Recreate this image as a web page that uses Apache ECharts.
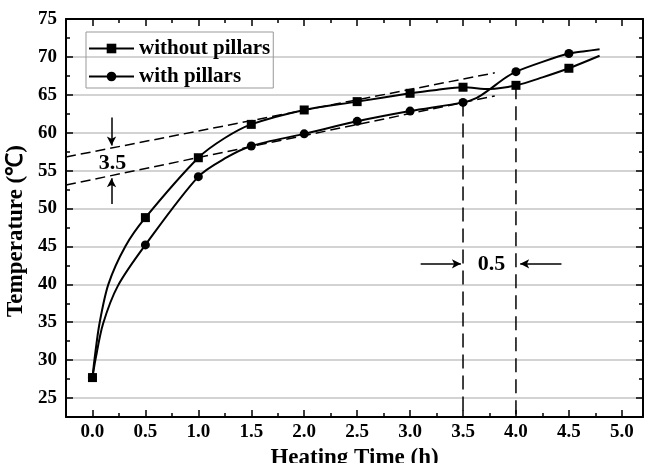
<!DOCTYPE html>
<html><head><meta charset="utf-8">
<script src="https://cdn.jsdelivr.net/npm/echarts@6/dist/echarts.min.js"></script>
<style>html,body{margin:0;padding:0;background:#fff}#c{width:645px;height:463px}</style>
</head><body><div id="c"></div>
<script>
// measured (marked) points
const timeMarked = [0, 0.5, 1.0, 1.5, 2.0, 2.5, 3.0, 3.5, 4.0, 4.5];
const withoutPillars = [27.7, 48.8, 56.7, 61.1, 63.0, 64.1, 65.2, 66.0, 66.25, 68.5];
const withPillars = [27.7, 45.2, 54.2, 58.25, 59.85, 61.5, 62.85, 64.0, 68.05, 70.45];
// intermediate points of the drawn curves
const withoutTraceT = [0.02, 0.066, 0.15, 0.31, 1.25, 3.25, 3.75, 4.25, 4.79];
const withoutTraceY = [30.2, 34.8, 40.0, 45.0, 59.3, 65.65, 65.75, 67.3, 70.15];
const withTraceT = [0.03, 0.10, 0.24, 1.25, 3.63, 3.75, 3.88, 4.25, 4.65, 4.79];
const withTraceY = [30.2, 34.8, 39.8, 56.6, 64.6, 65.7, 67.05, 69.35, 70.75, 71.0];
// dashed guide lines
const dashUpper = [[-0.25, 56.8], [3.8, 67.9]];
const dashLower = [[-0.25, 53.1], [3.8, 64.85]];
const dashV35 = [[3.5, 64.0], [3.5, 22.5]];
const dashV40 = [[4.0, 66.25], [4.0, 22.5]];
// annotation arrows [from, to]
const arrows = [
  [[0.18, 62.0], [0.18, 58.3]],
  [[0.18, 50.6], [0.18, 54.0]],
  [[3.10, 42.7], [3.48, 42.7]],
  [[4.43, 42.7], [4.04, 42.7]]
];
const annotTexts = [[0.19, 55.9, '3.5'], [3.77, 42.7, '0.5']];
const seriesNames = ['without pillars', 'with pillars'];

const FONT = "'Liberation Serif','Times New Roman',serif";

function buildCurve(mT, mY, tT, tY, sym) {
  const pts = mT.map((t, i) => ({t, y: mY[i], m: true}))
    .concat(tT.map((t, i) => ({t, y: tY[i], m: false})));
  pts.sort((a, b) => a.t - b.t);
  return pts.map(p => ({value: [p.t, p.y], symbol: p.m ? sym : 'none'}));
}

const chart = echarts.init(document.getElementById('c'));
const axisCommon = {
  axisLine: {show: true, onZero: false, lineStyle: {color: '#000', width: 2}},
  axisTick: {show: true, inside: true, length: 7, lineStyle: {color: '#000', width: 1.5}},
  minorTick: {show: true, splitNumber: 2, length: 4, lineStyle: {color: '#000', width: 1.5}}
};
const xBase = {type: 'value', min: -0.25, max: 5.2, splitNumber: 10, minInterval: 0.5, maxInterval: 0.5};
const yBase = {type: 'value', min: 22.5, max: 75, splitNumber: 10, minInterval: 5, maxInterval: 5};

const dashSeries = (data, dash) => ({
  type: 'line', data, symbol: 'none', silent: true, z: 1,
  lineStyle: {color: '#000', width: 1.5, type: dash}
});

chart.setOption({
  animation: false,
  grid: {left: 66, right: 2, top: 19, bottom: 46, containLabel: false, outerBoundsMode: 'none'},
  legend: {
    data: seriesNames, orient: 'vertical', left: 86, top: 32,
    itemWidth: 45, itemHeight: 12, itemGap: 7, padding: [6, 3, 1, 2],
    borderColor: '#999', borderWidth: 1, selectedMode: false,
    textStyle: {fontFamily: FONT, fontWeight: 'bold', fontSize: 21, color: '#000'}
  },
  xAxis: [
    Object.assign({}, xBase, axisCommon, {
      position: 'bottom',
      name: 'Heating Time (h)', nameLocation: 'middle', nameGap: 24,
      nameTextStyle: {fontFamily: FONT, fontWeight: 'bold', fontSize: 23, color: '#000'},
      axisLabel: {margin: 6, fontFamily: FONT, fontWeight: 'bold', fontSize: 19, color: '#000',
        showMinLabel: false, showMaxLabel: false, formatter: v => v.toFixed(1)},
      splitLine: {show: false}
    }),
    Object.assign({}, xBase, axisCommon, {
      position: 'top', axisLabel: {show: false}, splitLine: {show: false}
    })
  ],
  yAxis: [
    Object.assign({}, yBase, axisCommon, {
      position: 'left',
      name: 'Temperature (\u2103)', nameLocation: 'middle', nameGap: 30,
      nameTextStyle: {fontFamily: FONT, fontWeight: 'bold', fontSize: 23, color: '#000',
        padding: [0, 26, 0, 0]},
      axisLabel: {margin: 9, fontFamily: FONT, fontWeight: 'bold', fontSize: 19, color: '#000',
        showMinLabel: false},
      splitLine: {show: true, lineStyle: {color: '#c4c4c4', width: 1.5}}
    }),
    Object.assign({}, yBase, axisCommon, {
      position: 'right', axisLabel: {show: false}, splitLine: {show: false}
    })
  ],
  series: [
    dashSeries(dashUpper, [10, 5]),
    dashSeries(dashLower, [10, 5]),
    dashSeries(dashV35, [14, 7]),
    dashSeries(dashV40, [14, 7]),
    {
      name: seriesNames[1], type: 'line', smooth: 0.3, z: 3,
      symbol: 'circle', symbolSize: 9, showSymbol: true,
      data: buildCurve(timeMarked, withPillars, withTraceT, withTraceY, 'circle'),
      lineStyle: {color: '#000', width: 2}, itemStyle: {color: '#000'},
      emphasis: {disabled: true}
    },
    {
      name: seriesNames[0], type: 'line', smooth: 0.3, z: 4,
      symbol: 'rect', symbolSize: 9, showSymbol: true,
      data: buildCurve(timeMarked, withoutPillars, withoutTraceT, withoutTraceY, 'rect'),
      lineStyle: {color: '#000', width: 2}, itemStyle: {color: '#000'},
      emphasis: {disabled: true}
    },
    {
      type: 'line', data: [], silent: true, z: 5,
      markLine: {
        silent: true, symbol: ['none', 'arrow'], symbolSize: [7, 9], animation: false,
        label: {show: false},
        lineStyle: {color: '#000', width: 1.5, type: 'solid'},
        emphasis: {disabled: true},
        data: arrows.map(a => [{coord: a[0]}, {coord: a[1]}])
      }
    },
    {
      type: 'scatter', silent: true, z: 6, symbolSize: 1,
      itemStyle: {color: 'rgba(0,0,0,0)', opacity: 1},
      data: annotTexts,
      label: {show: true, position: 'inside', formatter: p => p.value[2], opacity: 1,
        fontFamily: FONT, fontWeight: 'bold', fontSize: 22, color: '#000'}
    }
  ]
});
</script></body></html>
